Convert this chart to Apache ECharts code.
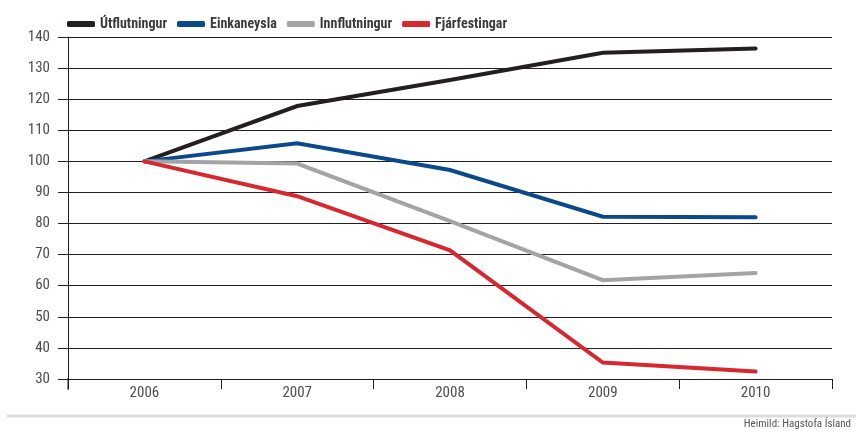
<!DOCTYPE html>
<html><head><meta charset="utf-8">
<script src="https://cdn.jsdelivr.net/npm/echarts@6/dist/echarts.min.js"></script>
<style>html,body{margin:0;padding:0;background:#fff}#c{width:856px;height:437px}</style>
</head><body><div id="c"></div>
<script>
const categories = ['2006','2007','2008','2009','2010'];
const utflutningur = [100, 117.8, 126.2, 134.9, 136.3];
const einkaneysla = [100, 105.8, 97.2, 82.2, 82.0];
const innflutningur = [100, 99.3, 80.8, 61.8, 64.1];
const fjarfestingar = [100, 88.8, 71.4, 35.3, 32.4];
const yTicks = {min: 30, max: 140, interval: 10};
const seriesNames = ['Útflutningur','Einkaneysla','Innflutningur','Fjárfestingar'];
const source = 'Heimild: Hagstofa Ísland';

const colors = ['#231f20','#0a4a8c','#a4a4a6','#d7282f'];
const narrow = "'Roboto Condensed','Liberation Sans Narrow',sans-serif";
const chart = echarts.init(document.getElementById('c'));
const data = [utflutningur, einkaneysla, innflutningur, fjarfestingar];
chart.setOption({
  animation:false,
  color: colors,
  textStyle:{fontFamily:narrow},
  legend:{
    left: 62, top: 12, icon:'roundRect', itemWidth:28, itemHeight:6, itemGap:10,
    textStyle:{fontFamily:narrow, fontWeight:'bold', fontSize:14, color:'#3a3a3c'},
    data: seriesNames
  },
  grid:{left:68, right:24, top:37, bottom:58, containLabel:false},
  xAxis:{
    type:'category', data:categories, boundaryGap:true,
    axisLine:{show:true, lineStyle:{color:'#231f20', width:1}},
    axisTick:{show:true, length:10, lineStyle:{color:'#231f20'}},
    axisLabel:{fontFamily:narrow, fontSize:15, color:'#4d4d4f', margin:7}
  },
  yAxis:{
    type:'value', min:yTicks.min, max:yTicks.max, interval:yTicks.interval,
    axisLine:{show:true, lineStyle:{color:'#231f20', width:1}},
    axisTick:{show:true, length:10, lineStyle:{color:'#231f20'}},
    splitLine:{show:true, lineStyle:{color:'#231f20', width:1}},
    axisLabel:{fontFamily:narrow, fontSize:15, color:'#4d4d4f', margin:18}
  },
  series: data.map((d,i)=>({
    name: seriesNames[i], type:'line', data:d, symbol:'none',
    lineStyle:{width:4, cap:'round', join:'miter'}, z: 2+i
  })),
  graphic:[
    {type:'line', shape:{x1:7,y1:416,x2:856,y2:416}, style:{stroke:'#dcdcdc', lineWidth:3}},
    {type:'line', shape:{x1:68,y1:378,x2:68,y2:390}, style:{stroke:'#231f20', lineWidth:1}},
    {type:'text', right:5, top:419, style:{text:source, fontFamily:narrow, fontSize:11, fill:'#555'}}
  ]
});
</script></body></html>
